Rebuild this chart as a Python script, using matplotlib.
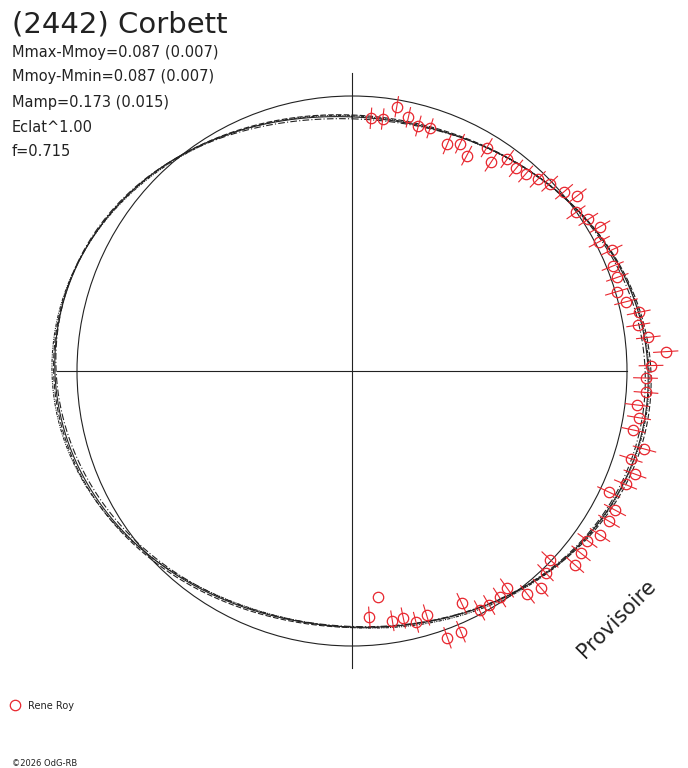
import numpy as np
import matplotlib.pyplot as plt
from matplotlib.patches import Circle

# Courbe de rotation en coordonnées polaires (phase dans le sens horaire depuis le haut)
titre = "(2442) Corbett"
infos = ["Mmax-Mmoy=0.087 (0.007)",
         "Mmoy-Mmin=0.087 (0.007)",
         "Mamp=0.173 (0.015)",
         "Eclat^1.00",
         "f=0.715"]
observateur = "Rene Roy"
copyright_txt = "\u00a92026 OdG-RB"

# Mesures : phase (0..1) et rayon relatif (cercle de référence = 1)
phase = [0.0119, 0.0193, 0.0267, 0.0348, 0.0421, 0.0495, 0.0633, 0.0706, 0.0779, 0.0864,
         0.0935, 0.1006, 0.1083, 0.1150, 0.1225, 0.1293, 0.1383, 0.1448, 0.1519, 0.1592,
         0.1661, 0.1733, 0.1806, 0.1891, 0.1960, 0.2037, 0.2106, 0.2179, 0.2246, 0.2320,
         0.2402, 0.2471, 0.2538, 0.2616, 0.2689, 0.2757, 0.2829, 0.2915, 0.2985, 0.3056,
         0.3126, 0.3201, 0.3274, 0.3342, 0.3430, 0.3493, 0.3570, 0.3639, 0.3711, 0.3783,
         0.3860, 0.3940, 0.4013, 0.4081, 0.4156, 0.4221, 0.4298, 0.4370, 0.4453, 0.4528,
         0.4603, 0.4674, 0.4745, 0.4820, 0.4888]
rayon = [0.9215, 0.9231, 0.9747, 0.9450, 0.9230, 0.9270, 0.8942, 0.9151, 0.8871, 0.9483,
         0.9118, 0.9556, 0.9481, 0.9551, 0.9705, 0.9903, 1.0097, 1.0381, 0.9983, 1.0211,
         1.0434, 1.0148, 1.0418, 1.0220, 1.0231, 1.0048, 1.0277, 1.0642, 1.0544, 1.0844,
         1.1429, 1.0875, 1.0676, 1.0719, 1.0437, 1.0574, 1.0459, 1.1008, 1.0635, 1.0951,
         1.0768, 1.0320, 1.0817, 1.0826, 1.0812, 1.0551, 1.0644, 1.0748, 0.9941, 1.0164,
         1.0452, 1.0328, 0.9697, 0.9829, 0.9864, 0.9866, 0.9342, 1.0275, 1.0305, 0.9277,
         0.9430, 0.9173, 0.9201, 0.8282, 0.8968]
erreur = [0.037, 0.037, 0.037, 0.036, 0.037, 0.036, 0.037, 0.037, 0.038, 0.038,
          0.038, 0.038, 0.038, 0.038, 0.039, 0.039, 0.040, 0.040, 0.040, 0.040,
          0.041, 0.041, 0.041, 0.041, 0.041, 0.042, 0.042, 0.042, 0.042, 0.043,
          0.044, 0.043, 0.043, 0.043, 0.042, 0.042, 0.042, 0.042, 0.042, 0.042,
          0.043, 0.044, 0.043, 0.043, 0.042, 0.042, 0.042, 0.041, 0.040, 0.040,
          0.040, 0.040, 0.040, 0.040, 0.039, 0.039, 0.039, 0.040, 0.039, 0.038,
          0.037, 0.037, 0.036, 0.000, 0.036]

# Ajustements de Fourier : c0, a1, b1, a2, b2, a3, b3, a4, b4
fit_solide = [1.003, -0.0035, -0.0020, -0.0755, -0.0172, 0.000, 0.000, 0.000, 0.000]
fit_tirets = [1.007, -0.0040, -0.0010, -0.0770, -0.0160, 0.003, -0.002, 0.002, 0.001]
fit_mixte = [0.999, -0.0030, -0.0030, -0.0740, -0.0185, -0.003, 0.002, -0.002, 0.002]
fit_points = [1.005, -0.0045, -0.0025, -0.0775, -0.0178, 0.002, 0.003, 0.003, -0.002]

W, H = 688, 768
CX, CY, R = 352, 371, 275.0

fig = plt.figure(figsize=(W / 100, H / 100), dpi=100)
ax = fig.add_axes([0, 0, 1, 1])
ax.set_xlim(-CX / R, (W - CX) / R)
ax.set_ylim(-(H - CY) / R, CY / R)
ax.axis("off")

noir = "#222222"
rouge = "#e8262e"

# axes et cercle de référence
ax.plot([0, 0], [-1.08, 1.083], color=noir, lw=0.8)
ax.plot([-1.073, 1.0], [0, 0], color=noir, lw=0.8)
ax.add_patch(Circle((0, 0), 1.0, fill=False, color=noir, lw=0.8))


def courbe(coef, ph):
    r = np.full_like(ph, coef[0])
    for k in range(1, 5):
        r += coef[2 * k - 1] * np.cos(2 * np.pi * k * ph) + coef[2 * k] * np.sin(2 * np.pi * k * ph)
    return r


grille = np.linspace(0, 1, 721)
styles = [(fit_solide, "-"), (fit_tirets, (0, (5, 2))),
          (fit_mixte, (0, (6, 2, 1, 2))), (fit_points, (0, (3, 1, 1, 1, 1, 1)))]
for coef, ls in styles:
    rr = courbe(coef, grille)
    ax.plot(rr * np.sin(2 * np.pi * grille), rr * np.cos(2 * np.pi * grille),
            color=noir, lw=0.8, ls=ls)

# points de mesure avec barres d'erreur radiales
ph = np.array(phase)
r = np.array(rayon)
e = np.array(erreur)
s, c = np.sin(2 * np.pi * ph), np.cos(2 * np.pi * ph)
for i in range(len(ph)):
    if e[i] > 0:
        ax.plot([(r[i] - e[i]) * s[i], (r[i] + e[i]) * s[i]],
                [(r[i] - e[i]) * c[i], (r[i] + e[i]) * c[i]], color=rouge, lw=0.8)
ax.plot(r * s, r * c, "o", mfc="none", mec=rouge, ms=7.5, mew=0.9)

# textes
fig.text(12 / W, 1 - 32 / H, titre, fontsize=21, color=noir, va="baseline")
for j, t in enumerate(infos):
    fig.text(12 / W, 1 - (56.5 + 25 * j) / H, t, fontsize=10.5, color=noir, va="baseline")
fig.text(617 / W, 1 - 619 / H, "Provisoire", fontsize=15, color=noir, rotation=45,
         ha="center", va="center")

# légende
fig.lines.append(plt.Line2D([15 / W], [1 - 704.5 / H], marker="o", mfc="none", mec=rouge,
                            ms=7.5, mew=0.9, transform=fig.transFigure))
fig.text(28 / W, 1 - 706 / H, observateur, fontsize=7, color=noir, va="center")
fig.text(12 / W, 1 - 763 / H, copyright_txt, fontsize=6, color=noir, va="center")

fig.savefig("out.png", dpi=100)
